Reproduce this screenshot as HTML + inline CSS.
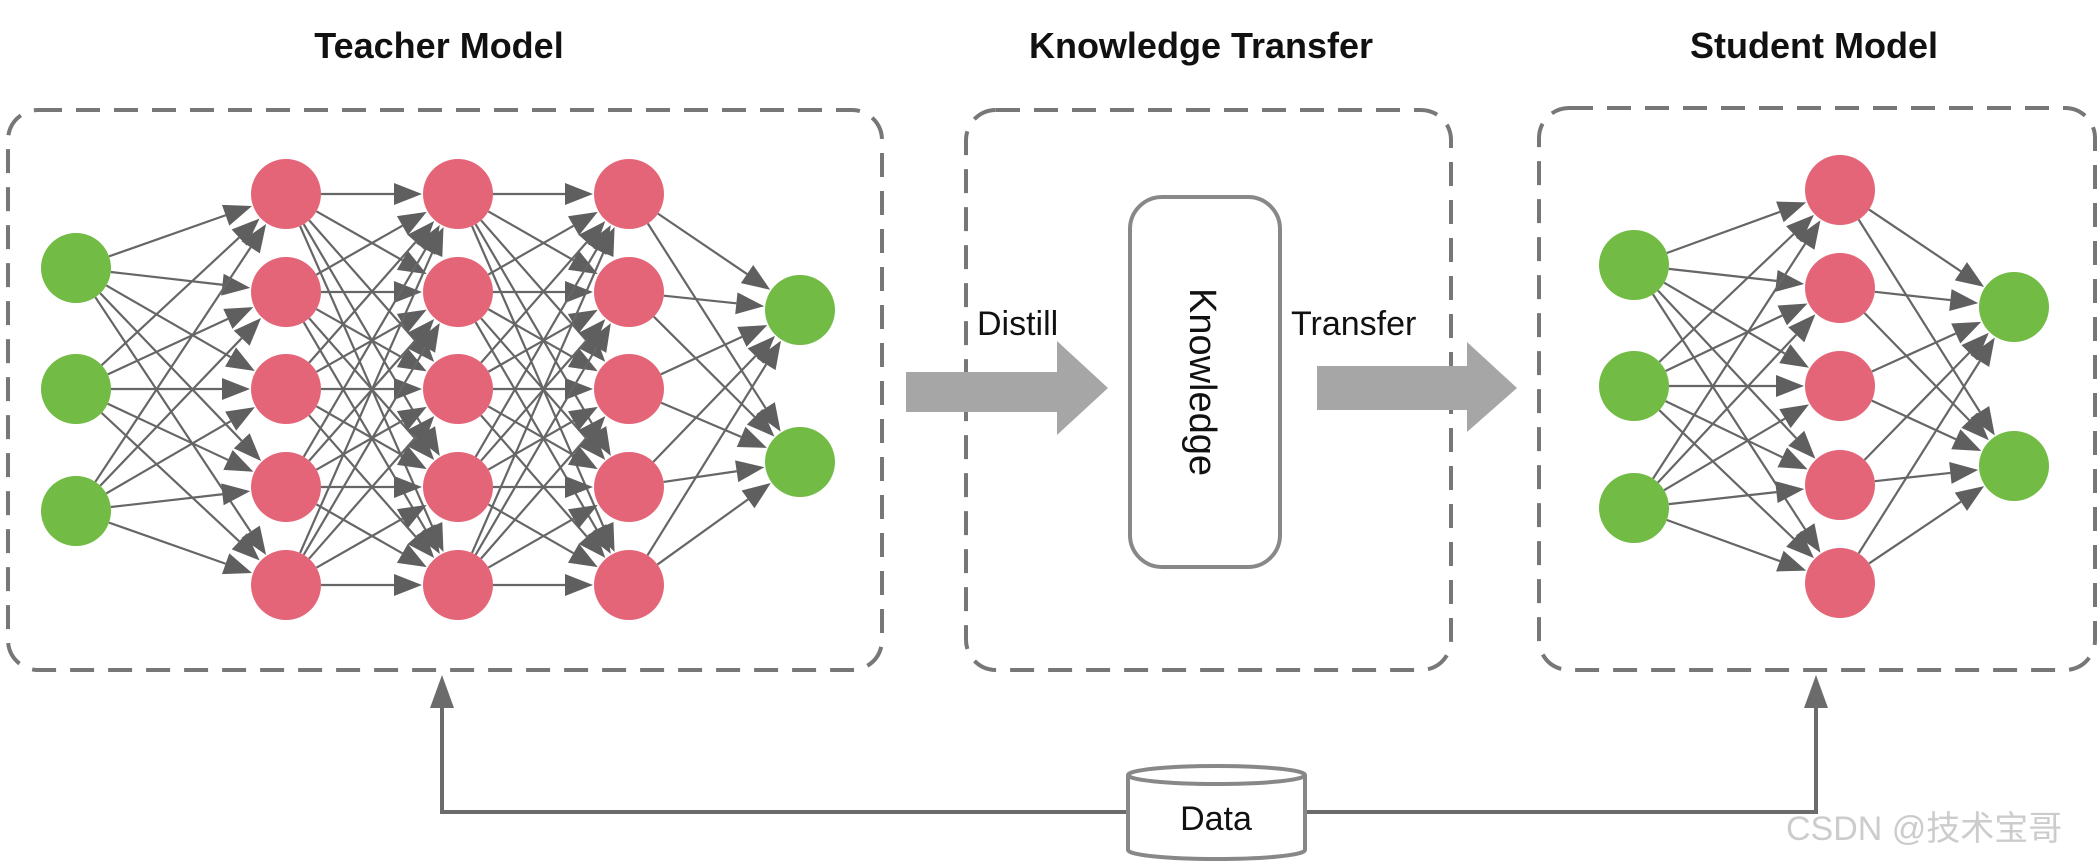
<!DOCTYPE html>
<html><head><meta charset="utf-8"><style>
html,body{margin:0;padding:0;background:#fff;}
svg{display:block;}
text{font-family:"Liberation Sans",Arial,sans-serif;}
</style></head><body>
<svg id="s" width="2098" height="864" viewBox="0 0 2098 864" xmlns="http://www.w3.org/2000/svg">
<text x="439" y="58" font-size="36" font-weight="bold" text-anchor="middle" fill="#111">Teacher Model</text>
<text x="1201" y="58" font-size="36" font-weight="bold" text-anchor="middle" fill="#111">Knowledge Transfer</text>
<text x="1814" y="58" font-size="36" font-weight="bold" text-anchor="middle" fill="#111">Student Model</text>
<g fill="none" stroke="#777" stroke-width="4" stroke-dasharray="24 14">
<rect x="8" y="110" width="874" height="560" rx="30"/>
<rect x="966" y="110" width="485" height="560" rx="30"/>
<rect x="1539" y="108" width="556" height="562" rx="30"/>
</g>
<g id="edges"></g>
<g id="nodes"></g>
<rect x="1130" y="197" width="150" height="370" rx="32" fill="#fff" stroke="#888" stroke-width="4"/>
<text transform="translate(1190,382) rotate(90)" font-size="38" text-anchor="middle" fill="#111">Knowledge</text>
<text x="977" y="335" font-size="34" fill="#111">Distill</text>
<text x="1291" y="335" font-size="34" fill="#111">Transfer</text>
<polygon points="906,372 1057,372 1057,341 1108,388 1057,435 1057,412 906,412" fill="#a6a6a6"/>
<polygon points="1317,366 1467,366 1467,342 1517,388 1467,432 1467,410 1317,410" fill="#a6a6a6"/>
<polyline points="442,706 442,812 1130,812" fill="none" stroke="#6b6b6b" stroke-width="4"/>
<polyline points="1305,812 1816,812 1816,706" fill="none" stroke="#6b6b6b" stroke-width="4"/>
<polygon points="430,708 454,708 442,675" fill="#6b6b6b"/>
<polygon points="1804,708 1828,708 1816,675" fill="#6b6b6b"/>
<path d="M1128,775 L1128,850 A88,9 0 0 0 1305,850 L1305,775" fill="#fff" stroke="#888" stroke-width="4"/>
<ellipse cx="1216.5" cy="775" rx="88.5" ry="9" fill="#fff" stroke="#888" stroke-width="4"/>
<text x="1216" y="830" font-size="34" text-anchor="middle" fill="#111">Data</text>
<text x="1786" y="840" font-size="34" fill="#ccc" font-family="'Liberation Sans','Noto Sans CJK SC',sans-serif">CSDN @技术宝哥</text>
</svg>
<script>
var NS="http://www.w3.org/2000/svg";
var E=document.getElementById("edges"),N=document.getElementById("nodes");
function layers(L){
 for(var i=0;i<L.length-1;i++){var a=L[i],b=L[i+1];
  a.ys.forEach(function(y1){b.ys.forEach(function(y2){
   var x1=a.x,x2=b.x,dx=x2-x1,dy=y2-y1,d=Math.sqrt(dx*dx+dy*dy),ux=dx/d,uy=dy/d;
   var sx=x1+ux*35,sy=y1+uy*35,tx=x2-ux*36,ty=y2-uy*36;
   var bx=tx-ux*28,by=ty-uy*28;
   var l=document.createElementNS(NS,"line");
   l.setAttribute("x1",sx);l.setAttribute("y1",sy);l.setAttribute("x2",bx);l.setAttribute("y2",by);
   l.setAttribute("stroke","#666");l.setAttribute("stroke-width","2.2");E.appendChild(l);
   var p=document.createElementNS(NS,"polygon"),px=-uy*11,py=ux*11;
   p.setAttribute("points",tx+","+ty+" "+(bx+px)+","+(by+py)+" "+(bx-px)+","+(by-py));
   p.setAttribute("fill","#5f5f5f");E.appendChild(p);
  });});}
 L.forEach(function(l){l.ys.forEach(function(y){
  var c=document.createElementNS(NS,"circle");c.setAttribute("cx",l.x);c.setAttribute("cy",y);c.setAttribute("r",35);
  c.setAttribute("fill",l.c);N.appendChild(c);});});
}
var G="#72bb45",R="#e56578",red=[194,292,389,487,585];
layers([{x:76,ys:[268,389,511],c:G},{x:286,ys:red,c:R},{x:458,ys:red,c:R},{x:629,ys:red,c:R},{x:800,ys:[310,462],c:G}]);
layers([{x:1634,ys:[265,386,508],c:G},{x:1840,ys:[190,288,386,485,583],c:R},{x:2014,ys:[307,466],c:G}]);
</script>
</body></html>
